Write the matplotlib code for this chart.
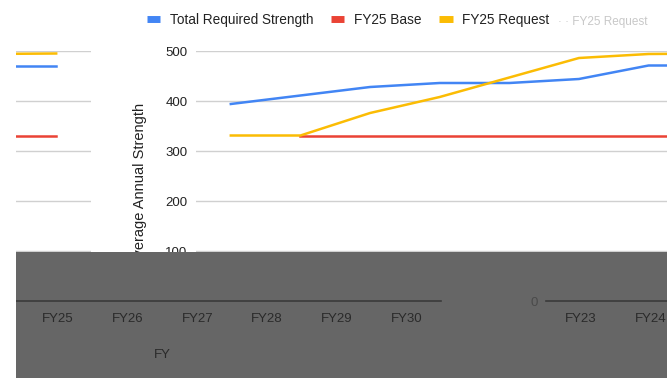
import matplotlib
matplotlib.use("Agg")
import matplotlib.pyplot as plt
from matplotlib.lines import Line2D
from matplotlib.patches import Rectangle
import numpy as np

plt.rcParams['font.family'] = ['Liberation Sans', 'DejaVu Sans']

# --- dados ---
anos = ["FY23", "FY24", "FY25", "FY26", "FY27", "FY28", "FY29", "FY30"]
total_required = [394, 411, 428, 436, 436, 444, 471, 471]
fy25_base = [np.nan, 331, 331, 331, 331, 331, 331, 331]
fy25_request = [331, 331, 376, 408, 447, 486, 494, 495]
yticks = [0, 100, 200, 300, 400, 500]

AZUL = "#4285F4"
VERMELHO = "#EA4335"
AMARELO = "#FBBC04"
CINZA = "#666666"

W, H = 667, 378
fig = plt.figure(figsize=(W / 100, H / 100), dpi=100)


def caixa(esq, topo, larg, alt):
    # converte pixels (origem em cima/esquerda) para fracao da figura
    return [esq / W, 1 - (topo + alt) / H, larg / W, alt / H]


x = np.arange(len(anos))
ESQ, LARG = 196, 557   # area do grafico em pixels
WRAP = 662             # largura em que a imagem "dobra"
SHIFT = 350            # deslocamento da parte de baixo (imagem quebrada)


def desenhar_linhas(ax):
    ax.plot(x, total_required, color=AZUL, lw=1.8, zorder=3)
    ax.plot(x, fy25_base, color=VERMELHO, lw=1.8, zorder=3)
    ax.plot(x, fy25_request, color=AMARELO, lw=1.8, zorder=4)
    ax.set_xlim(-0.5, len(anos) - 0.5)
    ax.set_ylim(0, 500)
    ax.set_yticks(yticks[1:])
    ax.grid(axis="y", color="#d0d0d0", lw=1)
    ax.set_axisbelow(True)
    for s in ax.spines.values():
        s.set_visible(False)
    ax.tick_params(length=0)
    ax.set_xticks([])


# eixo principal (parte de cima)
ax = fig.add_axes(caixa(ESQ, 51, LARG, 250))
desenhar_linhas(ax)
ax.tick_params(axis="y", labelsize=9.5, labelcolor="#222222", pad=6)
ax.set_ylabel("Average Annual Strength", fontsize=10.5, color="#222222")
ax.yaxis.set_label_coords(-0.088, 0.467)

# pedaco que "dobra" para a esquerda
ax_w = fig.add_axes(caixa(ESQ - WRAP, 51, LARG, 250))
desenhar_linhas(ax_w)
ax_w.set_yticklabels([])
ax_w.patch.set_alpha(0)

# legenda
handles = [Line2D([], [], color=c, lw=5, solid_capstyle="butt")
           for c in (AZUL, VERMELHO, AMARELO)]
fig.legend(handles, ["Total Required Strength", "FY25 Base", "FY25 Request"],
           loc="center", bbox_to_anchor=(348 / W, 1 - 20 / H), ncol=3,
           frameon=False, fontsize=9.8, handlelength=1.0, handletextpad=0.7,
           columnspacing=1.3, labelcolor="#222222")
fig.text(558 / W, 1 - 22 / H, "· · FY25 Request", fontsize=8.5, color="#c8c8c8",
         va="center")

# faixa cinza de baixo
fig.add_artist(Rectangle((16 / W, 0), 1, 1 - 252 / H, transform=fig.transFigure,
                         facecolor=CINZA, edgecolor="none", zorder=5))


def eixo_baixo(esq):
    b = fig.add_axes(caixa(esq, 51, LARG, 250), zorder=6)
    b.patch.set_alpha(0)
    b.set_xlim(-0.5, len(anos) - 0.5)
    b.set_ylim(0, 500)
    b.set_xticks(x)
    b.set_xticklabels(anos)
    b.set_yticks([0])
    for s in ("top", "right", "left"):
        b.spines[s].set_visible(False)
    b.spines["bottom"].set_color("#3a3a3a")
    b.spines["bottom"].set_linewidth(1.2)
    b.tick_params(length=0, labelsize=9.5, labelcolor="#2a2a2a", pad=9)
    b.tick_params(axis="y", labelcolor="#4a4a4a", pad=6)
    b.set_xlabel("FY", fontsize=9.5, color="#2a2a2a", labelpad=17)
    return b


eixo_baixo(ESQ + SHIFT)
eixo_baixo(ESQ + SHIFT - WRAP)

# faixa branca a esquerda
fig.add_artist(Rectangle((0, 0), 16 / W, 1, transform=fig.transFigure,
                         facecolor="white", edgecolor="none", zorder=20))

fig.savefig("out.png", dpi=100)
